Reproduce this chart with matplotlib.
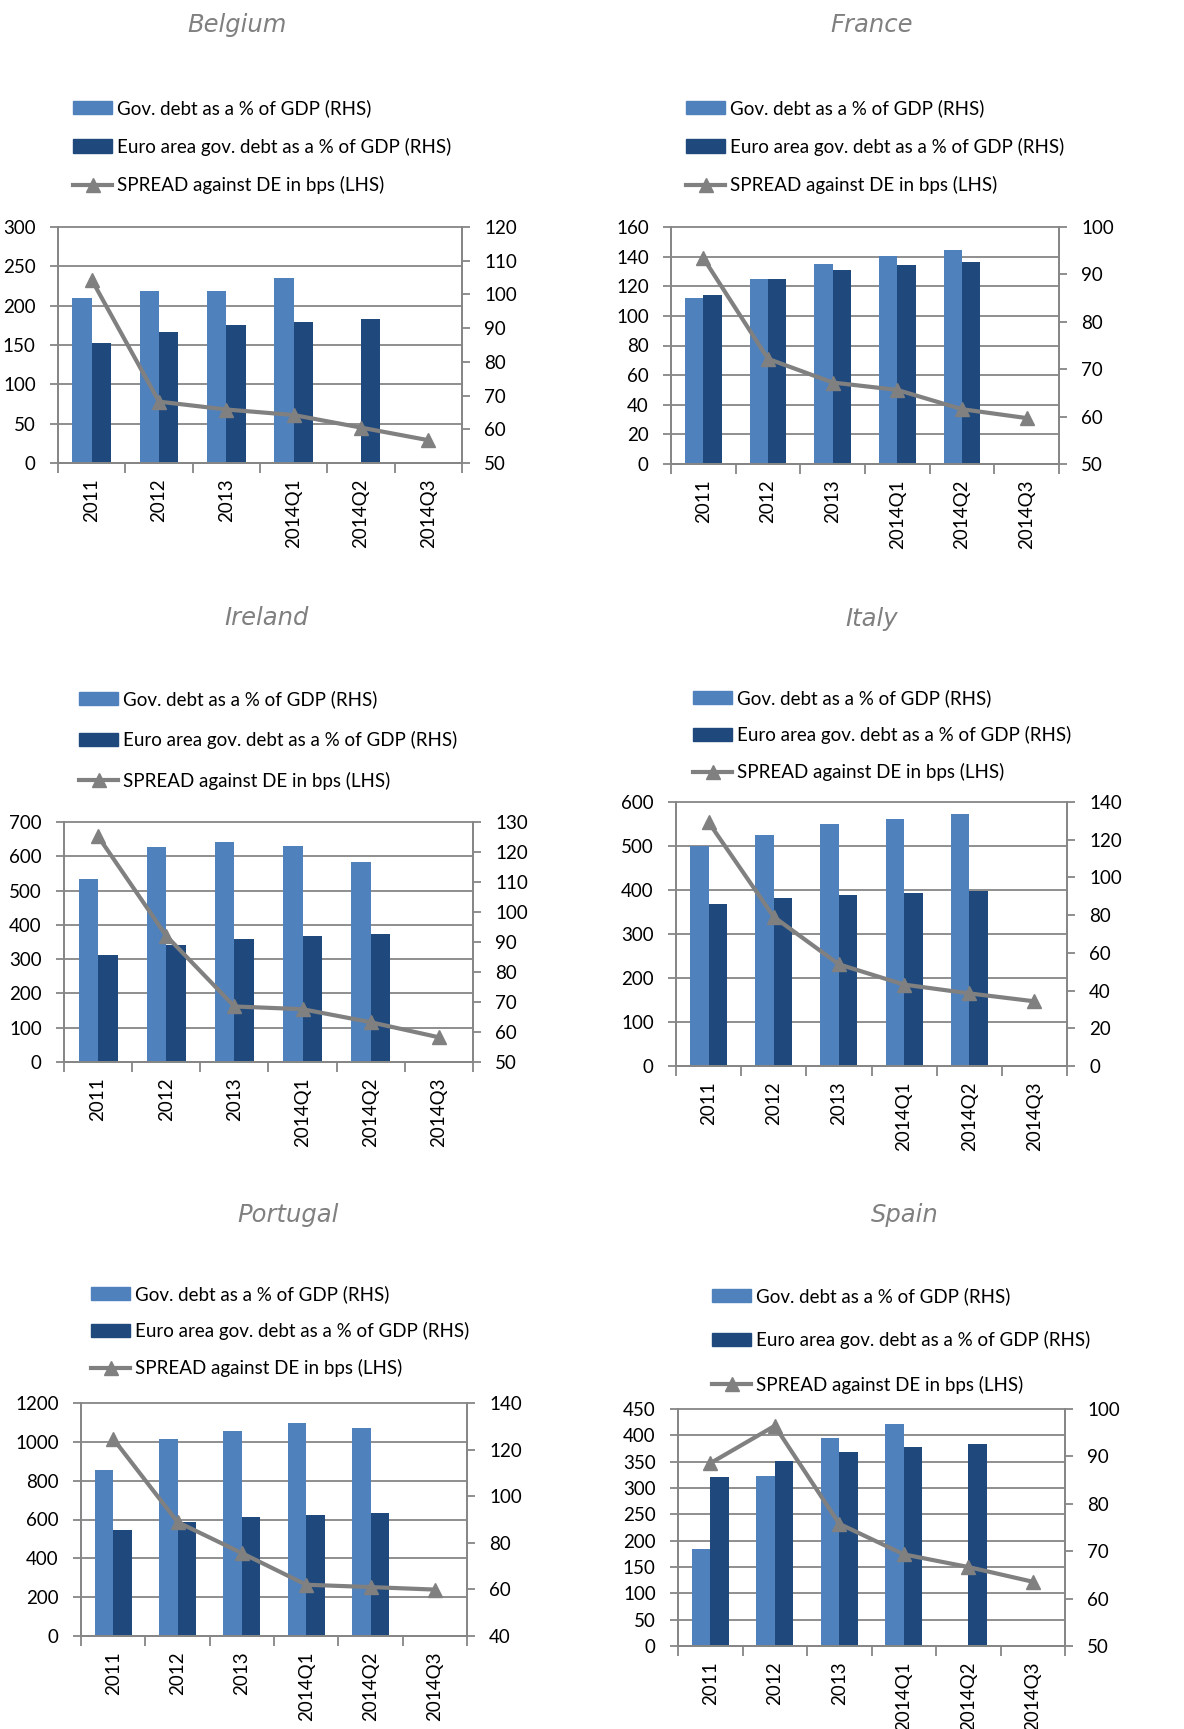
import numpy as np
import matplotlib
matplotlib.use("Agg")
import matplotlib.pyplot as plt
from matplotlib.patches import Patch
from matplotlib.lines import Line2D

plt.rcParams['font.family'] = ['Lato', 'DejaVu Sans']

# data
categories = ['2011', '2012', '2013', '2014Q1', '2014Q2', '2014Q3']
euro_area_debt = [85.7, 89.0, 90.9, 91.9, 92.7, np.nan]

belgium_debt = [99.0, 101.0, 101.1, 105.0, np.nan, np.nan]
belgium_spread = [233, 78, 68, 61, 45, 29]

france_debt = [85.0, 89.1, 92.1, 93.9, 95.1, np.nan]
france_spread = [139, 71, 55, 50, 37, 31]

ireland_debt = [111.1, 121.7, 123.3, 121.9, 116.7, np.nan]
ireland_spread = [658, 368, 162, 154, 116, 72]

italy_debt = [116.6, 122.3, 128.1, 130.8, 133.8, np.nan]
italy_spread = [554, 339, 231, 185, 165, 147]

portugal_debt = [111.1, 124.7, 128.0, 131.6, 129.3, np.nan]
portugal_spread = [1016, 587, 427, 264, 252, 239]

spain_debt = [70.5, 85.9, 93.9, 96.8, np.nan, np.nan]
spain_spread = [347, 418, 232, 174, 150, 122]

labels = ['Gov. debt as a % of GDP (RHS)',
          'Euro area gov. debt as a % of GDP (RHS)',
          'SPREAD against DE in bps (LHS)']

LIGHT = '#4F81BD'
DARK = '#1F497D'
GREY = '#808080'
AXGREY = '#868686'

W, H = 1184, 1729
fig = plt.figure(figsize=(W / 100, H / 100), dpi=100)


def px_box(x0, y0, x1, y1):
    return [x0 / W, 1 - y1 / H, (x1 - x0) / W, (y1 - y0) / H]


def panel(name, debt, spread, box, title_xy, leg_xy, leg_space,
          llim, lstep, rlim, rstep):
    ax = fig.add_axes(px_box(*box))
    ax2 = ax.twinx()
    ax.set_zorder(2)
    ax2.set_zorder(1)
    ax.patch.set_visible(False)

    x = np.arange(len(categories))
    w = 0.285
    ax2.bar(x - w / 2, np.array(debt) - rlim[0], w, bottom=rlim[0],
            color=LIGHT, zorder=2)
    ax2.bar(x + w / 2, np.array(euro_area_debt) - rlim[0], w, bottom=rlim[0],
            color=DARK, zorder=2)

    # gridlines follow the left axis ticks, drawn behind the bars
    lticks = np.arange(llim[0], llim[1] + lstep / 2, lstep)
    for t in lticks:
        f = (t - llim[0]) / (llim[1] - llim[0])
        ax2.plot([0, 1], [f, f], transform=ax2.transAxes, color=AXGREY,
                 lw=1.3, zorder=0, clip_on=False)

    ax.plot(x, spread, color=GREY, lw=3, marker='^', markersize=10,
            zorder=3, clip_on=False)

    ax.set_xlim(-0.5, len(categories) - 0.5)
    ax.set_ylim(*llim)
    ax.set_yticks(lticks)
    ax2.set_ylim(*rlim)
    ax2.set_yticks(np.arange(rlim[0], rlim[1] + rstep / 2, rstep))

    ax.set_xticks(np.arange(-0.5, len(categories)), [''] * (len(categories) + 1))
    ax.set_xticks(x, categories, minor=True, rotation=90)
    ax.tick_params(axis='x', which='major', direction='out', length=7,
                   width=1.3, color=AXGREY)
    ax.tick_params(axis='x', which='minor', length=0, pad=11, labelsize=13.5)
    ax.tick_params(axis='y', direction='out', length=6, width=1.3,
                   color=AXGREY, pad=10, labelsize=13.5)
    ax2.tick_params(axis='y', direction='out', length=6, width=1.3,
                    color=AXGREY, pad=10, labelsize=13.5)

    for a in (ax, ax2):
        for s in a.spines.values():
            s.set_color(AXGREY)
            s.set_linewidth(1.3)
        a.spines['top'].set_visible(False)

    fig.text(title_xy[0] / W, 1 - title_xy[1] / H, name, ha='center',
             va='center', style='italic', color=GREY, size=17.5,
             family='DejaVu Sans')

    handles = [Patch(color=LIGHT), Patch(color=DARK),
               Line2D([], [], color=GREY, lw=3, marker='^', markersize=10)]
    fig.legend(handles, labels, loc='upper left',
               bbox_to_anchor=(leg_xy[0] / W, 1 - (leg_xy[1] - 8) / H),
               frameon=False, fontsize=13.5, handlelength=2.1,
               handletextpad=0.25, labelspacing=leg_space, borderpad=0,
               borderaxespad=0)


panel('Belgium', belgium_debt, belgium_spread, (58, 227, 462, 463),
      (237, 25), (73, 107), 1.1, (0, 300), 50, (50, 120), 10)
panel('France', france_debt, france_spread, (671, 227, 1059, 464),
      (872, 25), (686, 107), 1.1, (0, 160), 20, (50, 100), 10)
panel('Ireland', ireland_debt, ireland_spread, (64, 822, 473, 1062),
      (267, 618), (79, 698), 1.22, (0, 700), 100, (50, 130), 10)
panel('Italy', italy_debt, italy_spread, (676, 802, 1067, 1066),
      (872, 619), (693, 697), 1.02, (0, 600), 100, (0, 140), 20)
panel('Portugal', portugal_debt, portugal_spread, (81, 1403, 467, 1636),
      (288, 1215), (91, 1293), 1.02, (0, 1200), 200, (40, 140), 20)
panel('Spain', spain_debt, spain_spread, (678, 1409, 1065, 1646),
      (905, 1215), (712, 1295), 1.4, (0, 450), 50, (50, 100), 10)

fig.savefig('out.png', dpi=100)
